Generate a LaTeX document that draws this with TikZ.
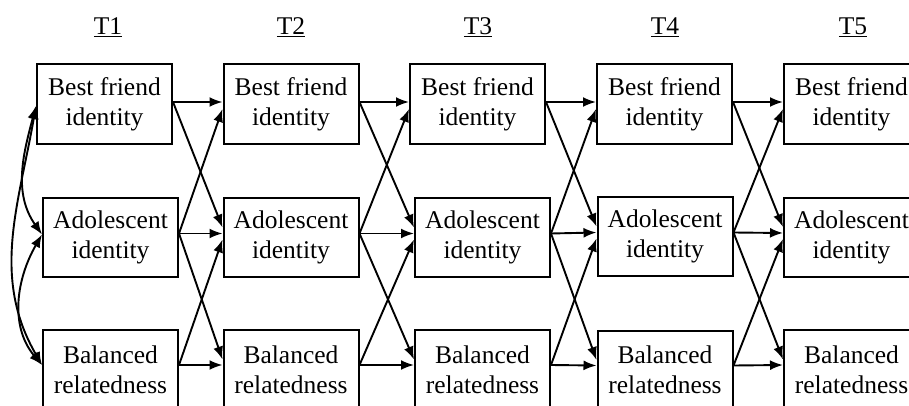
\documentclass[tikz,border=0pt]{standalone}
\usepackage{fontspec}
\setmainfont{Liberation Serif}
\usetikzlibrary{arrows.meta}
\begin{document}
\begin{tikzpicture}[x=1pt,y=1pt,
  box/.style={draw, line width=2pt, minimum width=135pt, minimum height=79pt,
    inner sep=0pt, align=center, font=\fontsize{25.5}{30}\selectfont},
  conn/.style={line width=1.9pt, -{Latex[length=13pt,width=10pt]}},
  curv/.style={line width=1.9pt, {Latex[length=13pt,width=10pt]}-{Latex[length=13pt,width=10pt]}},
  tlab/.style={anchor=base, inner sep=0pt, font=\fontsize{25.5}{30}\selectfont}]
\useasboundingbox (0,0) rectangle (909,405);
\clip (0,0) rectangle (909,405);
% time labels
\node[tlab] (t1) at (108,370) {\underline{T1}};
\node[tlab] (t2) at (291,370) {\underline{T2}};
\node[tlab] (t3) at (478,370) {\underline{T3}};
\node[tlab] (t4) at (665,370) {\underline{T4}};
\node[tlab] (t5) at (853,370) {\underline{T5}};
% boxes
\node[box] (b1) at (104.5,301) {Best friend\\identity};
\node[box] (a1) at (110.5,167.5) {Adolescent\\identity};
\node[box] (r1) at (110.5,35.5) {Balanced\\relatedness};
\node[box] (b2) at (291,301) {Best friend\\identity};
\node[box] (a2) at (291,167.5) {Adolescent\\identity};
\node[box] (r2) at (291,35.5) {Balanced\\relatedness};
\node[box] (b3) at (477.5,301) {Best friend\\identity};
\node[box] (a3) at (482.5,167.5) {Adolescent\\identity};
\node[box] (r3) at (482.5,35.5) {Balanced\\relatedness};
\node[box] (b4) at (664.5,301) {Best friend\\identity};
\node[box] (a4) at (665,168.5) {Adolescent\\identity};
\node[box] (r4) at (665,35) {Balanced\\relatedness};
\node[box] (b5) at (851.5,301) {Best friend\\identity};
\node[box] (a5) at (851.5,168) {Adolescent\\identity};
\node[box] (r5) at (851.5,35.5) {Balanced\\relatedness};
% cross-lagged connectors
\foreach \i/\j in {1/2,2/3,3/4,4/5}{
  \draw[conn] ([yshift=2pt]b\i.east) -- ([yshift=2pt]b\j.west);
  \draw[conn] ([yshift=2pt]b\i.east) -- ([yshift=10pt]a\j.west);
  \draw[conn] ([yshift=4pt]a\i.east) -- ([yshift=-5pt]b\j.west);
  \draw[conn] ([yshift=4pt]a\i.east) -- ([yshift=4pt]a\j.west);
  \draw[conn] ([yshift=4pt]a\i.east) -- ([yshift=10pt]r\j.west);
  \draw[conn] ([yshift=4.5pt]r\i.east) -- ([yshift=-2pt]a\j.west);
  \draw[conn] ([yshift=4.5pt]r\i.east) -- ([yshift=4.5pt]r\j.west);
}
% correlations at T1
\draw[curv] ([yshift=-2pt]b1.west) to[out=255,in=125] ([yshift=3pt]a1.west);
\draw[curv] ([yshift=3pt]a1.west) to[out=240,in=130] ([yshift=4.5pt]r1.west);
\draw[curv] ([yshift=-2pt]b1.west) to[out=260,in=120] ([yshift=4.5pt]r1.west);
\end{tikzpicture}
\end{document}
